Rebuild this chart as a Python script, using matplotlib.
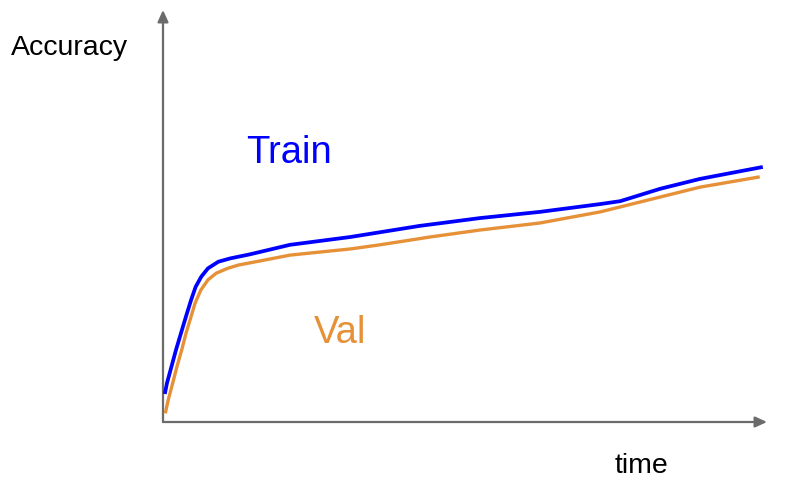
import matplotlib
matplotlib.use("Agg")
import matplotlib.pyplot as plt
from matplotlib.patches import FancyArrowPatch

plt.rcParams['font.family'] = ['Liberation Sans', 'DejaVu Sans']

# Data (time in 0-100 units, accuracy in 0-100 units)
train_t = [0.30, 0.65, 2.15, 3.80, 4.65, 5.40, 6.35, 7.45, 9.16, 11.1, 14.4, 21.0,
           31.0, 42.5, 52.5, 62.4, 72.4, 75.7, 79.0, 82.3, 88.9, 93.9, 99.3]
train_acc = [6.8, 9.4, 17.5, 25.6, 29.6, 32.8, 35.3, 37.3, 38.9, 39.7, 40.7, 43.0,
             44.9, 47.6, 49.5, 51.0, 52.9, 53.6, 55.1, 56.6, 59.0, 60.4, 61.9]
val_t = [0.38, 0.85, 1.60, 2.30, 3.10, 3.80, 4.65, 5.30, 6.25, 7.45, 8.80, 10.7, 12.5,
         16.1, 21.0, 31.0, 35.9, 44.2, 52.5, 62.4, 72.4, 79.0, 88.9, 98.8]
val_acc = [2.1, 5.3, 9.4, 13.4, 17.5, 21.5, 25.6, 28.8, 32.0, 34.5, 36.1, 37.3, 38.1,
           39.1, 40.5, 42.0, 43.0, 44.9, 46.6, 48.3, 51.0, 53.4, 57.0, 59.5]

W, H = 800, 480
fig = plt.figure(figsize=(8, 4.8), dpi=100)
x0, y0, x1, y1 = 163, 422, 767, 10
ax = fig.add_axes([x0 / W, (H - y0) / H, (x1 - x0) / W, (y0 - y1) / H])
ax.set_xlim(0, 100)
ax.set_ylim(0, 100)
ax.axis('off')

ax.plot(val_t, val_acc, color='#E69138', lw=2.4, solid_capstyle='butt', solid_joinstyle='round')
ax.plot(train_t, train_acc, color='#0000FF', lw=2.7, solid_capstyle='butt', solid_joinstyle='round')

axis_col = '#6b6b6b'
for end in [(1, 0), (0, 1)]:
    arr = FancyArrowPatch((0, 0), end, transform=ax.transAxes,
                          arrowstyle='-|>,head_length=7,head_width=3.2',
                          color=axis_col, lw=1.6, shrinkA=0, shrinkB=0,
                          clip_on=False, mutation_scale=1)
    ax.add_patch(arr)

def ftext(x, y, s, size, color):
    fig.text(x / W, (H - y) / H, s, fontsize=size, color=color,
             ha='left', va='baseline')

ftext(11, 55, 'Accuracy', 20.5, 'black')
ftext(246, 163, 'Train', 27.5, '#0000FF')
ftext(314, 343, 'Val', 27.5, '#E69138')
ftext(615, 473, 'time', 20.5, 'black')

fig.savefig('out.png', dpi=100)
